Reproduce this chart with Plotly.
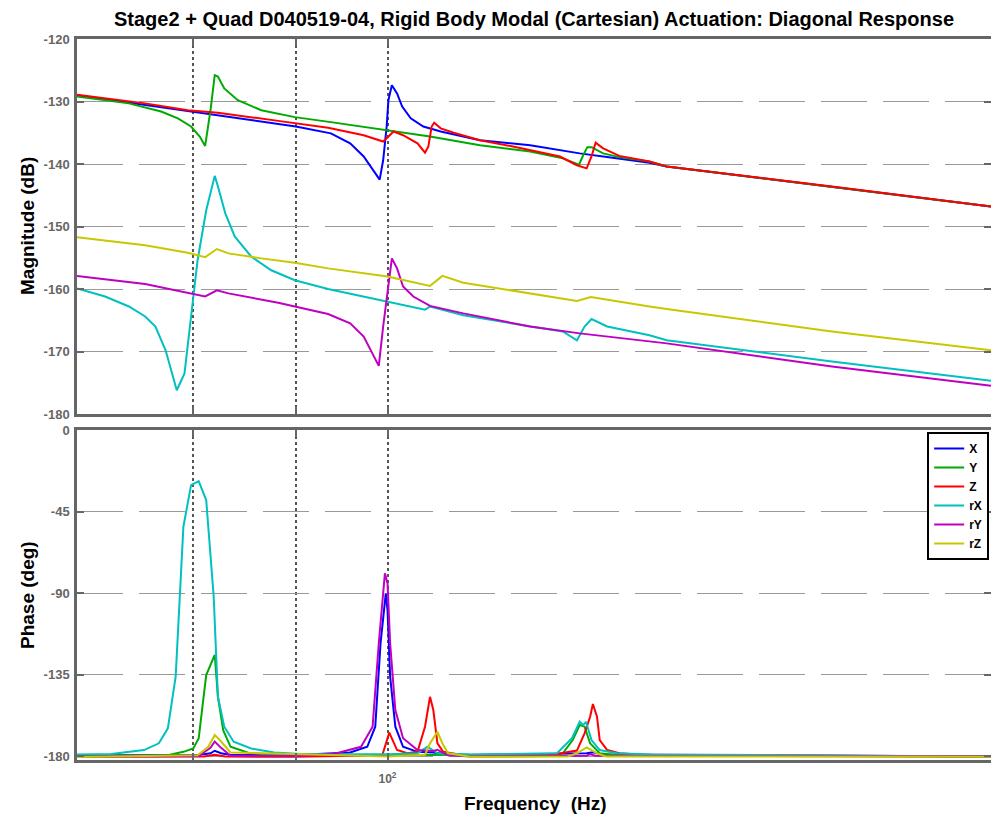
import plotly.graph_objects as go

# ---------------- data ----------------
names = ["X", "Y", "Z", "rX", "rY", "rZ"]
colors = ["#0000FF", "#00AA00", "#FF0000", "#00C0C0", "#C000C0", "#C8C800"]

# Magnitude (dB) vs frequency (Hz)
x_mag_f = [70, 75, 80, 85, 90, 93.7, 95.8, 97.3, 98.4, 99.1, 99.5, 99.9, 100.1, 100.5, 101.1,
           101.7, 102.7, 104.2, 106.3, 111.2, 117.8, 124.7, 129.5, 135.1, 137.8, 166.6, 200]
x_mag_db = [-129.0, -130.4, -131.7, -132.9, -134.0, -135.1, -136.7, -138.8, -141.0, -142.5, -139.4,
            -134.0, -129.8, -127.4, -128.7, -130.8, -132.7, -134.0, -134.8, -136.2, -137.0, -138.3,
            -139.0, -139.8, -140.4, -143.6, -146.8]

y_mag_f = [70, 74.3, 77.1, 78.6, 79.8, 80.6, 81.1, 81.6, 82.0, 82.3, 82.9, 84.2, 86.5, 89.9, 93.7,
           100, 105, 111.2, 117.8, 122.3, 124.6, 125.2, 125.8, 126.4, 128.1, 130.5, 135.1, 137.8,
           166.6, 200]
y_mag_db = [-129.2, -130.3, -131.6, -132.7, -134.0, -135.6, -137.1, -131.4, -125.8, -126.0, -127.9,
            -129.8, -131.4, -132.5, -133.3, -134.6, -135.6, -137.0, -138.0, -139.1, -140.1, -138.6,
            -137.3, -137.3, -138.3, -138.9, -139.6, -140.4, -143.6, -146.8]

z_mag_f = [70, 75.7, 79.5, 82.3, 88.2, 93.4, 97.3, 99.5, 100.7, 101.8, 103.5, 104.4, 104.8, 105.2,
           105.5, 106.3, 107.9, 111.2, 115.5, 121.9, 124.3, 125.7, 126.4, 127.0, 128.1, 130.5, 135.1,
           137.8, 166.6, 200]
z_mag_db = [-128.9, -130.3, -131.4, -131.8, -133.1, -134.2, -135.4, -136.4, -134.8, -135.4, -136.7,
            -138.2, -137.2, -134.0, -133.4, -134.3, -135.0, -136.2, -137.2, -138.8, -140.2, -140.7,
            -138.8, -136.6, -137.5, -138.7, -139.6, -140.4, -143.6, -146.8]

rx_mag_f = [70, 72.3, 74.3, 75.7, 76.6, 77.5, 78.5, 79.2, 79.8, 80.4, 81.2, 82.0, 82.3, 83.0, 83.9,
            85.5, 87.5, 89.9, 93.4, 100, 104.4, 105.0, 109.1, 117.8, 122.3, 124.3, 125.4, 126.4,
            128.7, 135.1, 137.8, 166.6, 200]
rx_mag_db = [-159.9, -161.2, -162.8, -164.4, -166.0, -169.8, -176.2, -173.5, -164.4, -155.4, -147.4,
             -141.9, -143.6, -147.9, -151.6, -154.8, -157.0, -158.6, -160.0, -162.0, -163.3, -162.8,
             -164.2, -166.0, -166.8, -168.2, -166.0, -164.8, -166.0, -167.4, -168.2, -171.6, -174.7]

ry_mag_f = [70, 75.7, 81.1, 82.2, 83.3, 88.2, 93.4, 95.8, 97.3, 98.4, 99.0, 99.5, 100, 100.5, 101.1,
            101.8, 103.0, 105.0, 109.1, 117.8, 124.7, 135.1, 137.8, 166.6, 200]
ry_mag_db = [-157.9, -159.2, -161.2, -160.2, -160.7, -162.2, -164.0, -165.5, -167.6, -170.8, -172.3,
             -166.0, -160.7, -155.1, -156.7, -159.6, -161.2, -162.7, -163.9, -166.0, -167.1, -168.4,
             -168.7, -172.4, -175.5]

rz_mag_f = [70, 75.7, 79.5, 81.1, 82.2, 83.3, 86.5, 89.9, 93.4, 100, 105.0, 106.5, 109.1, 117.8,
            124.3, 126.3, 129.5, 135.1, 137.8, 166.6, 200]
rz_mag_db = [-151.7, -153.0, -154.2, -154.9, -153.6, -154.3, -155.1, -155.8, -156.7, -158.0, -159.5,
             -157.9, -159.0, -160.7, -161.9, -161.3, -161.9, -162.8, -163.2, -166.8, -169.8]

# Phase (deg) vs frequency (Hz)
x_ph_f = [70, 80.5, 81.6, 82.0, 82.6, 83.5, 90, 95.8, 97.7, 98.6, 99.2, 99.8, 100, 100.3, 100.9,
          101.8, 103.5, 105.4, 106.5, 110, 125.7, 126.6, 128, 200]
x_ph = [-179.6, -179.4, -178.5, -177.1, -178.5, -179.4, -179.5, -178.0, -174.9, -163.8, -117.8,
        -90.2, -99.4, -136.2, -163.8, -174.9, -177.7, -178.0, -178.8, -179.4, -178.5, -178.0,
        -179.2, -180.2]

y_ph_f = [70, 77.7, 79.1, 80.0, 80.5, 81.2, 82.0, 82.3, 82.8, 83.5, 85.2, 87.2, 90, 100, 121.9,
          122.3, 123.7, 124.7, 125.4, 126.2, 127.6, 130, 200]
y_ph = [-179.8, -179.6, -177.7, -175.8, -170.3, -135.3, -124.2, -147.3, -165.7, -174.9, -178.2,
        -179.3, -179.6, -179.5, -179.3, -178.5, -171.2, -162.9, -163.8, -173.0, -178.5, -179.5,
        -180.2]

z_ph_f = [70, 81.0, 82.0, 83.0, 90, 99.4, 100.2, 101.1, 102.3, 103.5, 104.4, 105.0, 105.4, 105.9,
          106.6, 108.7, 120, 124.3, 125.4, 126.2, 126.6, 127.2, 127.6, 128.7, 130.5, 135, 200]
z_ph = [-180.4, -180.3, -179.3, -180.3, -180.4, -179.6, -167.1, -176.7, -178.5, -177.7, -163.8,
        -147.3, -154.6, -173.0, -177.7, -179.3, -179.8, -177.0, -167.5, -158.3, -151.3, -158.3,
        -171.2, -176.7, -178.5, -179.6, -180.2]

rx_ph_f = [70, 72.8, 75.6, 76.9, 77.7, 78.4, 79.1, 79.8, 80.5, 81.2, 81.9, 82.3, 82.9, 83.8, 85.5,
           87.8, 90.5, 100, 103.5, 104.7, 105.9, 110, 121.5, 123.6, 124.7, 125.2, 125.6, 126.4,
           127.6, 130.1, 135.4, 200]
rx_ph = [-179.1, -178.9, -176.7, -173.0, -164.7, -136.2, -53.4, -30.4, -28.2, -38.7, -92.0, -147.3,
         -163.8, -172.1, -175.8, -178.0, -178.9, -179.0, -178.5, -174.9, -178.5, -179.1, -178.5,
         -170.2, -161.1, -162.9, -161.1, -171.2, -176.7, -178.5, -179.1, -180.3]

ry_ph_f = [70, 80.5, 81.6, 82.0, 82.6, 83.5, 90, 94.0, 97.0, 98.3, 99.0, 99.7, 100, 100.3, 100.9,
           101.8, 103.5, 105.4, 105.9, 107.2, 110, 125.7, 126.2, 127, 200]
ry_ph = [-180.4, -180.0, -175.5, -172.0, -175.5, -179.8, -180.0, -178.9, -174.9, -163.8, -117.8,
         -79.1, -84.7, -117.8, -154.6, -170.2, -176.7, -177.2, -176.6, -179.6, -180.2, -179.8,
         -179.0, -179.8, -180.3]

rz_ph_f = [70, 80.4, 81.4, 82.0, 82.6, 83.5, 100, 104.4, 105.0, 105.9, 106.5, 107.2, 110, 123.0,
           124.3, 125.7, 127.2, 128.5, 200]
rz_ph = [-180.5, -179.6, -174.9, -168.4, -172.0, -178.0, -180.3, -179.3, -173.0, -166.6, -173.0,
         -178.5, -180.4, -180.3, -178.5, -175.2, -178.5, -180.2, -180.4]

# axis ticks
mag_ticks = [-180, -170, -160, -150, -140, -130, -120]
mag_ticklabels = ["-180", "-170", "-160", "-150", "-140", "-130", "-120"]
ph_ticks = [-180, -135, -90, -45, 0]
ph_ticklabels = ["-180", "-135", "-90", "-45", "0"]
freq_major = [100]
freq_major_labels = ["10<sup>2</sup>"]
freq_minor = [80, 90]

title_text = "Stage2 + Quad D040519-04, Rigid Body Modal (Cartesian) Actuation: Diagonal Response"

mag_f = [x_mag_f, y_mag_f, z_mag_f, rx_mag_f, ry_mag_f, rz_mag_f]
mag_db = [x_mag_db, y_mag_db, z_mag_db, rx_mag_db, ry_mag_db, rz_mag_db]
ph_f = [x_ph_f, y_ph_f, z_ph_f, rx_ph_f, ry_ph_f, rz_ph_f]
ph_v = [x_ph, y_ph, z_ph, rx_ph, ry_ph, rz_ph]

# ---------------- figure ----------------
FONT = "Liberation Sans, Arial, sans-serif"
fig = go.Figure()
for i, n in enumerate(names):
    fig.add_trace(go.Scatter(x=mag_f[i], y=mag_db[i], mode="lines", name=n,
                             line=dict(color=colors[i], width=2),
                             xaxis="x", yaxis="y", showlegend=False, legendgroup=n))
for i, n in enumerate(names):
    fig.add_trace(go.Scatter(x=ph_f[i], y=ph_v[i], mode="lines", name=n,
                             line=dict(color=colors[i], width=2),
                             xaxis="x2", yaxis="y2", showlegend=True, legendgroup=n))

H = 814
top_m, bot_m = 39, 54
plot_h = H - top_m - bot_m


def py2paper(py):
    return (H - bot_m - py) / plot_h


def bold(labels):
    return ["<b>" + s + "</b>" for s in labels]


axis_common = dict(showline=True, linecolor="#666666", linewidth=2.5, mirror="ticks",
                   ticks="inside", ticklen=7, tickwidth=1.5, tickcolor="#666666",
                   zeroline=False)
ytickfont = dict(family=FONT, size=13, color="#666666")
xminor = dict(tickvals=freq_minor, ticks="inside", ticklen=7, tickwidth=1.5,
              tickcolor="#666666", showgrid=True, gridcolor="#555555", gridwidth=1.5,
              griddash="dot")

xrange = [1.84510, 2.30103]
fig.update_layout(
    width=991, height=H,
    margin=dict(l=77, r=0, t=top_m, b=bot_m, autoexpand=False),
    paper_bgcolor="white", plot_bgcolor="white",
    font=dict(family=FONT),
    xaxis=dict(type="log", range=xrange, domain=[0, 1], anchor="y",
               tickvals=freq_major, showticklabels=False, minor=xminor,
               showgrid=True, gridcolor="#555555", gridwidth=1.5, griddash="dot",
               **axis_common),
    yaxis=dict(range=[-180, -120], domain=[py2paper(414), 1], anchor="x",
               tickvals=mag_ticks, ticktext=bold(mag_ticklabels),
               showgrid=True, gridcolor="#999999", gridwidth=1.2,
               griddash="46px,16px", tickfont=ytickfont, ticklabelstandoff=2, **axis_common),
    xaxis2=dict(type="log", range=xrange, domain=[0, 1], anchor="y2",
                tickvals=freq_major, ticktext=bold(freq_major_labels), ticklabelstandoff=6,
                minor=xminor,
                tickfont=dict(family=FONT, size=12, color="#666666"),
                showgrid=True, gridcolor="#555555", gridwidth=1.5, griddash="dot",
                **axis_common),
    yaxis2=dict(range=[-182.2, 0], domain=[0, py2paper(430)], anchor="x2",
                tickvals=ph_ticks, ticktext=bold(ph_ticklabels),
                showgrid=True, gridcolor="#999999", gridwidth=1.2,
                griddash="46px,16px", tickfont=ytickfont, ticklabelstandoff=2, **axis_common),
    legend=dict(x=0.998, xanchor="right", y=py2paper(432), yanchor="top",
                bgcolor="white", bordercolor="black", borderwidth=2,
                font=dict(family=FONT, size=12, color="black", weight="bold"),
                itemwidth=30, tracegroupgap=0),
    showlegend=True,
    annotations=[
        dict(text="<b>" + title_text + "</b>", xref="paper", yref="paper", x=0.5,
             y=py2paper(19), xanchor="center", yanchor="middle", showarrow=False,
             font=dict(family=FONT, size=20, color="black")),
        dict(text="<b>Magnitude (dB)</b>", xref="paper", yref="paper",
             x=(27 - 77) / 914, y=py2paper(226), xanchor="center", yanchor="middle",
             textangle=-90, showarrow=False, font=dict(family=FONT, size=19, color="black")),
        dict(text="<b>Phase (deg)</b>", xref="paper", yref="paper",
             x=(27 - 77) / 914, y=py2paper(595), xanchor="center", yanchor="middle",
             textangle=-90, showarrow=False, font=dict(family=FONT, size=19, color="black")),
        dict(text="<b>Frequency\u00a0 (Hz)</b>", xref="paper", yref="paper",
             x=(535 - 77) / 914, y=py2paper(803), xanchor="center", yanchor="middle",
             showarrow=False, font=dict(family=FONT, size=19, color="black")),
    ],
)

fig.write_html("out.html", config={"displayModeBar": False},
               post_script="document.body.style.margin='0';document.body.style.overflow='hidden';")
